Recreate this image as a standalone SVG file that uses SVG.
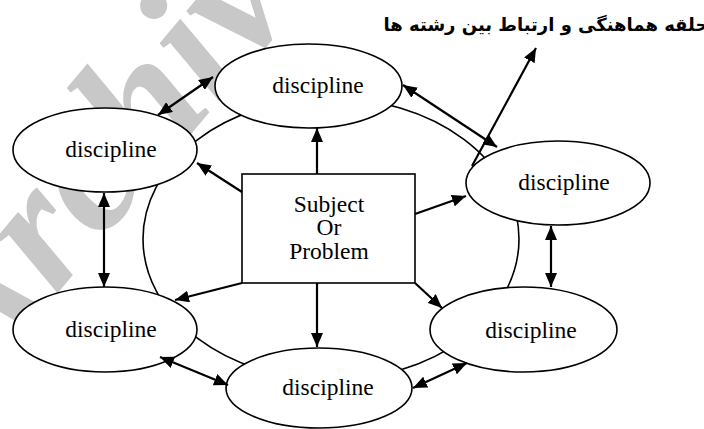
<svg xmlns="http://www.w3.org/2000/svg" width="704" height="429" viewBox="0 0 704 429">
<defs>
<marker id="ah" markerUnits="userSpaceOnUse" markerWidth="14" markerHeight="12" viewBox="0 0 14 12" refX="14" refY="6" orient="auto-start-reverse">
<path d="M0,0 L14,6 L0,12 z" fill="#000"/>
</marker>
</defs>
<style>
.node ellipse{fill:#fff;stroke:#000;stroke-width:1.6}
.lbl{font-family:'Liberation Serif','Times New Roman',serif;font-size:23.5px;fill:#000;text-anchor:middle}
.conn line{stroke:#000;stroke-width:2.2;fill:none}
.one{marker-end:url(#ah)}
.two{marker-start:url(#ah);marker-end:url(#ah)}
</style>
<rect width="704" height="429" fill="#fff"/>
<text transform="translate(-22,388) rotate(-50)" font-family="Liberation Serif" font-weight="bold" font-style="italic" font-size="180" fill="#c8c8c8">Archive</text>
<g id="ring"><ellipse cx="331" cy="239" rx="188" ry="141" fill="none" stroke="#000" stroke-width="1.6"/></g>
<g id="center"><rect x="242" y="174" width="173" height="109" fill="#fff" stroke="#000" stroke-width="1.6"/>
<text class="lbl" x="329" y="212">Subject</text><text class="lbl" x="329" y="235">Or</text><text class="lbl" x="329" y="259">Problem</text></g>
<g id="n-top" class="node"><ellipse cx="308.5" cy="86" rx="93.5" ry="42"/><text class="lbl" x="318" y="93">discipline</text></g>
<g id="n-left" class="node"><ellipse cx="105" cy="150" rx="92" ry="42"/><text class="lbl" x="111" y="157">discipline</text></g>
<g id="n-right" class="node"><ellipse cx="558" cy="183" rx="92" ry="42"/><text class="lbl" x="564" y="190">discipline</text></g>
<g id="n-bl" class="node"><ellipse cx="105" cy="329.5" rx="92" ry="42.5"/><text class="lbl" x="111" y="337">discipline</text></g>
<g id="n-br" class="node"><ellipse cx="523.5" cy="329.5" rx="93.5" ry="42.5"/><text class="lbl" x="531" y="338">discipline</text></g>
<g id="n-bottom" class="node"><ellipse cx="319" cy="388" rx="93" ry="40"/><text class="lbl" x="328" y="395">discipline</text></g>
<g id="title"><text x="546" y="31" text-anchor="middle" font-family="DejaVu Sans" font-weight="bold" font-size="18" fill="#000">حلقه هماهنگی و ارتباط بین رشته ها</text></g>
<g id="connectors" class="conn">
<line class="two" x1="158" y1="115" x2="213" y2="77"/>
<line class="two" x1="403" y1="85" x2="497" y2="147"/>
<line class="one" x1="472" y1="166" x2="536" y2="48"/>
<line class="one" x1="317" y1="174" x2="317" y2="128"/>
<line class="one" x1="242" y1="192" x2="197" y2="163"/>
<line class="one" x1="415" y1="214" x2="466" y2="196"/>
<line class="one" x1="242" y1="283" x2="175" y2="300"/>
<line class="one" x1="317" y1="283" x2="317" y2="347"/>
<line class="one" x1="415" y1="283" x2="442" y2="308"/>
<line class="two" x1="104" y1="193" x2="104" y2="287"/>
<line class="two" x1="551" y1="226" x2="551" y2="287"/>
<line class="two" x1="160" y1="357" x2="228" y2="385"/>
<line class="two" x1="413" y1="388" x2="467" y2="363"/>
</g>
</svg>
